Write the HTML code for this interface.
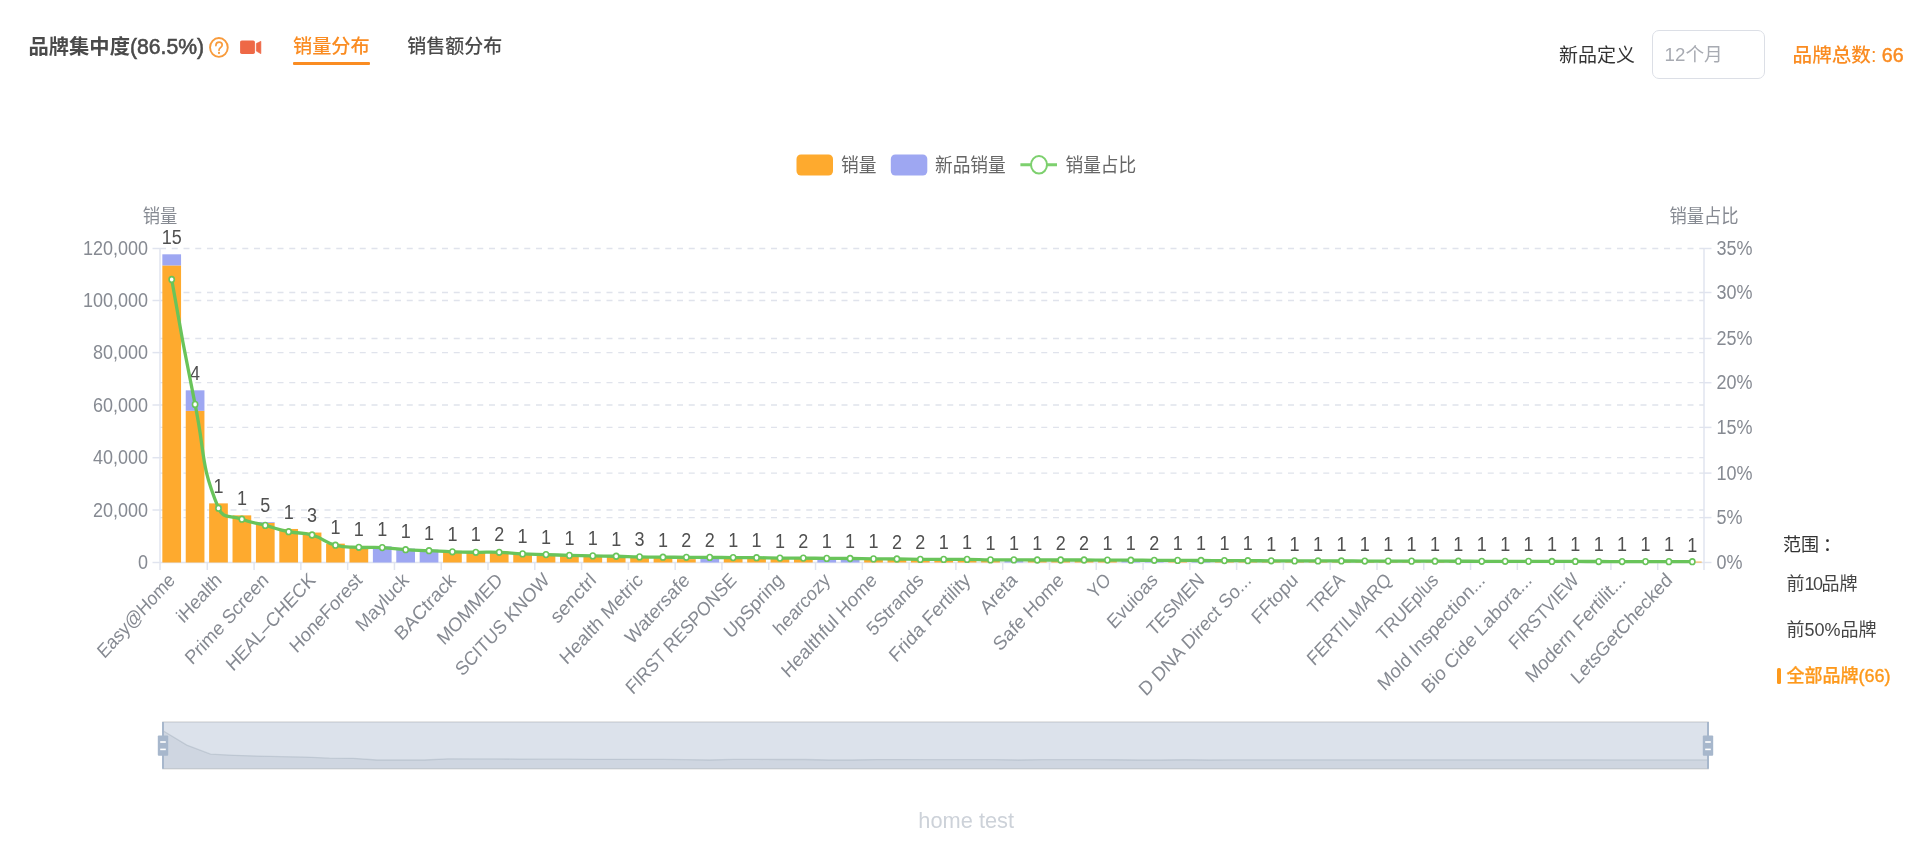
<!DOCTYPE html>
<html><head><meta charset="utf-8"><style>
html,body{margin:0;padding:0;background:#fff;width:1920px;height:843px;overflow:hidden;}
body{position:relative;font-family:"Liberation Sans","Noto Sans CJK SC",sans-serif;}
.abs{position:absolute;white-space:nowrap;line-height:1;}
body>*{filter:blur(0.45px);}
svg{position:absolute;left:0;top:0;}
svg text{font-family:"Liberation Sans","Noto Sans CJK SC",sans-serif;}
.al{font-size:18px;fill:#868A92;}
.dl{font-size:18px;fill:#505050;}
.lg{font-size:17.7px;fill:#666;}
.wm{font-size:21.8px;fill:#cdd2d9;}
</style></head><body>
<div class="abs" style="left:28.5px;top:35.6px;font-size:20.3px;color:#4a4a4a;font-weight:bold;transform:scaleY(1.0);transform-origin:0 50%;">品牌集中度<span style="font-weight:normal;font-size:21.2px;-webkit-text-stroke:0.55px #4a4a4a">(86.5%)</span></div>
<svg class="abs" style="left:205px;top:33px;" width="60" height="30" viewBox="205 33 60 30"><ellipse cx="218.9" cy="47.45" rx="8.85" ry="9.4" fill="none" stroke="#F89B3C" stroke-width="1.9"/><path d="M215.9,45.6 C215.9,43.3 217.3,42.2 219.1,42.2 C221,42.2 222.2,43.4 222.2,45 C222.2,46.4 221.3,47.1 220.4,47.7 C219.4,48.4 219,48.9 219,50.3" fill="none" stroke="#F89B3C" stroke-width="1.7" stroke-linecap="round"/><ellipse cx="219" cy="53" rx="1.05" ry="1.15" fill="#F89B3C"/><rect x="240.1" y="40.4" width="14.8" height="13.6" rx="1.7" fill="#EE6846"/><path d="M256.3,43.5 L260.9,41.3 L260.9,53.7 L256.3,51.1 Z" fill="#EE6846" stroke="#EE6846" stroke-width="0.6" stroke-linejoin="round"/></svg>
<div class="abs" style="left:293px;top:36.5px;font-size:19.2px;color:#FA8C22;font-weight:500;transform:scaleY(1.0);transform-origin:0 50%;">销量分布</div>
<div class="abs" style="left:293px;top:61.6px;width:77px;height:3.4px;background:#FA8C22;border-radius:1px;"></div>
<div class="abs" style="left:407.3px;top:36.5px;font-size:19.0px;color:#4a4a4a;font-weight:500;transform:scaleY(1.0);transform-origin:0 50%;">销售额分布</div>
<div class="abs" style="left:1559px;top:45.5px;font-size:19.0px;color:#333;font-weight:normal;transform:scaleY(1.0);transform-origin:0 50%;">新品定义</div>
<div class="abs" style="left:1652.2px;top:30.4px;width:110.5px;height:46.5px;border:1.5px solid #dcdfe6;border-radius:7px;"></div>
<div class="abs" style="left:1664.6px;top:46px;font-size:18.7px;color:#a8abb2;font-weight:normal;transform:scaleY(1.0);transform-origin:0 50%;">12个月</div>
<div class="abs" style="left:1792.6px;top:45.8px;font-size:19.6px;color:#FA8C22;font-weight:500;transform:scaleY(1.0);transform-origin:0 50%;">品牌总数: <span style="-webkit-text-stroke:0.5px #FA8C22">66</span></div>
<div class="abs" style="left:1783px;top:536px;font-size:18px;color:#333;font-weight:normal;transform:scaleY(1.0);transform-origin:0 50%;">范围<span style="position:relative;left:4px">：</span></div>
<div class="abs" style="left:1786.5px;top:575px;font-size:18px;color:#444;font-weight:normal;transform:scaleY(1.0);transform-origin:0 50%;">前<span style="letter-spacing:-1.5px">10</span>品牌</div>
<div class="abs" style="left:1786.5px;top:621px;font-size:18px;color:#444;font-weight:normal;transform:scaleY(1.0);transform-origin:0 50%;">前50%品牌</div>
<div class="abs" style="left:1777px;top:668px;width:3.6px;height:15.7px;border-radius:1.5px;background:#FD991C;"></div>
<div class="abs" style="left:1786.5px;top:667px;font-size:18px;color:#FD991C;font-weight:500;transform:scaleY(1.0);transform-origin:0 50%;-webkit-text-stroke:0.25px #FD991C;">全部品牌<span style="-webkit-text-stroke:0.4px #FD991C">(66)</span></div>
<svg width="1920" height="843" viewBox="0 0 1920 843">
<line x1="160" y1="510" x2="1704" y2="510" stroke="#E0E3EC" stroke-width="1.3" stroke-dasharray="6 5.75"/>
<line x1="160" y1="457.7" x2="1704" y2="457.7" stroke="#E0E3EC" stroke-width="1.3" stroke-dasharray="6 5.75"/>
<line x1="160" y1="405" x2="1704" y2="405" stroke="#E0E3EC" stroke-width="1.3" stroke-dasharray="6 5.75"/>
<line x1="160" y1="352.6" x2="1704" y2="352.6" stroke="#E0E3EC" stroke-width="1.3" stroke-dasharray="6 5.75"/>
<line x1="160" y1="300.5" x2="1704" y2="300.5" stroke="#E0E3EC" stroke-width="1.3" stroke-dasharray="6 5.75"/>
<line x1="160" y1="248.5" x2="1704" y2="248.5" stroke="#E0E3EC" stroke-width="1.3" stroke-dasharray="6 5.75"/>
<line x1="160" y1="517.6" x2="1704" y2="517.6" stroke="#E0E3EC" stroke-width="1.3" stroke-dasharray="6 5.75"/>
<line x1="160" y1="473.1" x2="1704" y2="473.1" stroke="#E0E3EC" stroke-width="1.3" stroke-dasharray="6 5.75"/>
<line x1="160" y1="427.4" x2="1704" y2="427.4" stroke="#E0E3EC" stroke-width="1.3" stroke-dasharray="6 5.75"/>
<line x1="160" y1="382.7" x2="1704" y2="382.7" stroke="#E0E3EC" stroke-width="1.3" stroke-dasharray="6 5.75"/>
<line x1="160" y1="338.5" x2="1704" y2="338.5" stroke="#E0E3EC" stroke-width="1.3" stroke-dasharray="6 5.75"/>
<line x1="160" y1="292.5" x2="1704" y2="292.5" stroke="#E0E3EC" stroke-width="1.3" stroke-dasharray="6 5.75"/>
<line x1="160" y1="248.4" x2="160" y2="562.5" stroke="#E0E4EF" stroke-width="1.5"/>
<line x1="1704" y1="248.4" x2="1704" y2="562.5" stroke="#E0E4EF" stroke-width="1.5"/>
<line x1="160" y1="562.5" x2="1704" y2="562.5" stroke="#E0E4EF" stroke-width="1.5"/>
<line x1="152.5" y1="562.5" x2="160" y2="562.5" stroke="#E0E4EF" stroke-width="1.5"/>
<text transform="translate(148,562.5) scale(1,1.09)" class="al" text-anchor="end" dominant-baseline="central">0</text>
<line x1="152.5" y1="510" x2="160" y2="510" stroke="#E0E4EF" stroke-width="1.5"/>
<text transform="translate(148,510) scale(1,1.09)" class="al" text-anchor="end" dominant-baseline="central">20,000</text>
<line x1="152.5" y1="457.7" x2="160" y2="457.7" stroke="#E0E4EF" stroke-width="1.5"/>
<text transform="translate(148,457.7) scale(1,1.09)" class="al" text-anchor="end" dominant-baseline="central">40,000</text>
<line x1="152.5" y1="405" x2="160" y2="405" stroke="#E0E4EF" stroke-width="1.5"/>
<text transform="translate(148,405) scale(1,1.09)" class="al" text-anchor="end" dominant-baseline="central">60,000</text>
<line x1="152.5" y1="352.6" x2="160" y2="352.6" stroke="#E0E4EF" stroke-width="1.5"/>
<text transform="translate(148,352.6) scale(1,1.09)" class="al" text-anchor="end" dominant-baseline="central">80,000</text>
<line x1="152.5" y1="300.5" x2="160" y2="300.5" stroke="#E0E4EF" stroke-width="1.5"/>
<text transform="translate(148,300.5) scale(1,1.09)" class="al" text-anchor="end" dominant-baseline="central">100,000</text>
<line x1="152.5" y1="248.5" x2="160" y2="248.5" stroke="#E0E4EF" stroke-width="1.5"/>
<text transform="translate(148,248.5) scale(1,1.09)" class="al" text-anchor="end" dominant-baseline="central">120,000</text>
<line x1="1704" y1="562.5" x2="1711.5" y2="562.5" stroke="#E0E4EF" stroke-width="1.5"/>
<text transform="translate(1716.5,562.5) scale(1,1.09)" class="al" dominant-baseline="central">0%</text>
<line x1="1704" y1="517.6" x2="1711.5" y2="517.6" stroke="#E0E4EF" stroke-width="1.5"/>
<text transform="translate(1716.5,517.6) scale(1,1.09)" class="al" dominant-baseline="central">5%</text>
<line x1="1704" y1="473.1" x2="1711.5" y2="473.1" stroke="#E0E4EF" stroke-width="1.5"/>
<text transform="translate(1716.5,473.1) scale(1,1.09)" class="al" dominant-baseline="central">10%</text>
<line x1="1704" y1="427.4" x2="1711.5" y2="427.4" stroke="#E0E4EF" stroke-width="1.5"/>
<text transform="translate(1716.5,427.4) scale(1,1.09)" class="al" dominant-baseline="central">15%</text>
<line x1="1704" y1="382.7" x2="1711.5" y2="382.7" stroke="#E0E4EF" stroke-width="1.5"/>
<text transform="translate(1716.5,382.7) scale(1,1.09)" class="al" dominant-baseline="central">20%</text>
<line x1="1704" y1="338.5" x2="1711.5" y2="338.5" stroke="#E0E4EF" stroke-width="1.5"/>
<text transform="translate(1716.5,338.5) scale(1,1.09)" class="al" dominant-baseline="central">25%</text>
<line x1="1704" y1="292.5" x2="1711.5" y2="292.5" stroke="#E0E4EF" stroke-width="1.5"/>
<text transform="translate(1716.5,292.5) scale(1,1.09)" class="al" dominant-baseline="central">30%</text>
<line x1="1704" y1="248.5" x2="1711.5" y2="248.5" stroke="#E0E4EF" stroke-width="1.5"/>
<text transform="translate(1716.5,248.5) scale(1,1.09)" class="al" dominant-baseline="central">35%</text>
<line x1="160" y1="562.5" x2="160" y2="570" stroke="#E0E4EF" stroke-width="1.5"/>
<line x1="207.29" y1="562.5" x2="207.29" y2="570" stroke="#E0E4EF" stroke-width="1.5"/>
<line x1="254.08" y1="562.5" x2="254.08" y2="570" stroke="#E0E4EF" stroke-width="1.5"/>
<line x1="300.86" y1="562.5" x2="300.86" y2="570" stroke="#E0E4EF" stroke-width="1.5"/>
<line x1="347.65" y1="562.5" x2="347.65" y2="570" stroke="#E0E4EF" stroke-width="1.5"/>
<line x1="394.44" y1="562.5" x2="394.44" y2="570" stroke="#E0E4EF" stroke-width="1.5"/>
<line x1="441.23" y1="562.5" x2="441.23" y2="570" stroke="#E0E4EF" stroke-width="1.5"/>
<line x1="488.02" y1="562.5" x2="488.02" y2="570" stroke="#E0E4EF" stroke-width="1.5"/>
<line x1="534.8" y1="562.5" x2="534.8" y2="570" stroke="#E0E4EF" stroke-width="1.5"/>
<line x1="581.59" y1="562.5" x2="581.59" y2="570" stroke="#E0E4EF" stroke-width="1.5"/>
<line x1="628.38" y1="562.5" x2="628.38" y2="570" stroke="#E0E4EF" stroke-width="1.5"/>
<line x1="675.17" y1="562.5" x2="675.17" y2="570" stroke="#E0E4EF" stroke-width="1.5"/>
<line x1="721.95" y1="562.5" x2="721.95" y2="570" stroke="#E0E4EF" stroke-width="1.5"/>
<line x1="768.74" y1="562.5" x2="768.74" y2="570" stroke="#E0E4EF" stroke-width="1.5"/>
<line x1="815.53" y1="562.5" x2="815.53" y2="570" stroke="#E0E4EF" stroke-width="1.5"/>
<line x1="862.32" y1="562.5" x2="862.32" y2="570" stroke="#E0E4EF" stroke-width="1.5"/>
<line x1="909.11" y1="562.5" x2="909.11" y2="570" stroke="#E0E4EF" stroke-width="1.5"/>
<line x1="955.89" y1="562.5" x2="955.89" y2="570" stroke="#E0E4EF" stroke-width="1.5"/>
<line x1="1002.68" y1="562.5" x2="1002.68" y2="570" stroke="#E0E4EF" stroke-width="1.5"/>
<line x1="1049.47" y1="562.5" x2="1049.47" y2="570" stroke="#E0E4EF" stroke-width="1.5"/>
<line x1="1096.26" y1="562.5" x2="1096.26" y2="570" stroke="#E0E4EF" stroke-width="1.5"/>
<line x1="1143.05" y1="562.5" x2="1143.05" y2="570" stroke="#E0E4EF" stroke-width="1.5"/>
<line x1="1189.83" y1="562.5" x2="1189.83" y2="570" stroke="#E0E4EF" stroke-width="1.5"/>
<line x1="1236.62" y1="562.5" x2="1236.62" y2="570" stroke="#E0E4EF" stroke-width="1.5"/>
<line x1="1283.41" y1="562.5" x2="1283.41" y2="570" stroke="#E0E4EF" stroke-width="1.5"/>
<line x1="1330.2" y1="562.5" x2="1330.2" y2="570" stroke="#E0E4EF" stroke-width="1.5"/>
<line x1="1376.98" y1="562.5" x2="1376.98" y2="570" stroke="#E0E4EF" stroke-width="1.5"/>
<line x1="1423.77" y1="562.5" x2="1423.77" y2="570" stroke="#E0E4EF" stroke-width="1.5"/>
<line x1="1470.56" y1="562.5" x2="1470.56" y2="570" stroke="#E0E4EF" stroke-width="1.5"/>
<line x1="1517.35" y1="562.5" x2="1517.35" y2="570" stroke="#E0E4EF" stroke-width="1.5"/>
<line x1="1564.14" y1="562.5" x2="1564.14" y2="570" stroke="#E0E4EF" stroke-width="1.5"/>
<line x1="1610.92" y1="562.5" x2="1610.92" y2="570" stroke="#E0E4EF" stroke-width="1.5"/>
<line x1="1657.71" y1="562.5" x2="1657.71" y2="570" stroke="#E0E4EF" stroke-width="1.5"/>
<line x1="1704" y1="562.5" x2="1704" y2="570" stroke="#E0E4EF" stroke-width="1.5"/>
<text transform="translate(160,216.4) scale(1,1.09)" class="al" style="font-size:17.3px" text-anchor="middle" dominant-baseline="central">销量</text>
<text transform="translate(1704,216.4) scale(1,1.09)" class="al" style="font-size:17.3px" text-anchor="middle" dominant-baseline="central">销量占比</text>
<rect x="162.34" y="265.41" width="18.72" height="297.09" fill="#FEAA2E"/>
<rect x="162.34" y="254.31" width="18.72" height="11.11" fill="#9EA7F2"/>
<rect x="185.73" y="410.85" width="18.72" height="151.65" fill="#FEAA2E"/>
<rect x="185.73" y="390.32" width="18.72" height="20.53" fill="#9EA7F2"/>
<rect x="209.13" y="503.37" width="18.72" height="59.13" fill="#FEAA2E"/>
<rect x="232.52" y="515.35" width="18.72" height="47.15" fill="#FEAA2E"/>
<rect x="255.92" y="522.88" width="18.72" height="39.62" fill="#FEAA2E"/>
<rect x="255.92" y="522.1" width="18.72" height="0.79" fill="#9EA7F2"/>
<rect x="279.31" y="528.96" width="18.72" height="33.54" fill="#FEAA2E"/>
<rect x="302.7" y="532.55" width="18.72" height="29.95" fill="#FEAA2E"/>
<rect x="326.1" y="543.66" width="18.72" height="18.84" fill="#FEAA2E"/>
<rect x="349.49" y="545.95" width="18.72" height="16.55" fill="#FEAA2E"/>
<rect x="372.88" y="546.27" width="18.72" height="16.23" fill="#9EA7F2"/>
<rect x="396.28" y="548.56" width="18.72" height="13.94" fill="#9EA7F2"/>
<rect x="419.67" y="549.65" width="18.72" height="12.85" fill="#9EA7F2"/>
<rect x="443.07" y="550.85" width="18.72" height="11.65" fill="#FEAA2E"/>
<rect x="466.46" y="551.39" width="18.72" height="11.11" fill="#FEAA2E"/>
<rect x="489.85" y="551.39" width="18.72" height="11.11" fill="#FEAA2E"/>
<rect x="513.25" y="553.13" width="18.72" height="9.37" fill="#FEAA2E"/>
<rect x="536.64" y="553.9" width="18.72" height="8.6" fill="#FEAA2E"/>
<rect x="560.04" y="554.77" width="18.72" height="7.73" fill="#FEAA2E"/>
<rect x="583.43" y="555.31" width="18.72" height="7.19" fill="#FEAA2E"/>
<rect x="606.82" y="555.69" width="18.72" height="6.81" fill="#FEAA2E"/>
<rect x="630.22" y="556.4" width="18.72" height="6.1" fill="#FEAA2E"/>
<rect x="653.61" y="556.73" width="18.72" height="5.77" fill="#FEAA2E"/>
<rect x="677.01" y="559.1" width="18.72" height="3.4" fill="#FEAA2E"/>
<rect x="677.01" y="556.84" width="18.72" height="2.27" fill="#9EA7F2"/>
<rect x="700.4" y="556.95" width="18.72" height="5.55" fill="#9EA7F2"/>
<rect x="723.79" y="557.16" width="18.72" height="5.34" fill="#FEAA2E"/>
<rect x="747.19" y="557.27" width="18.72" height="5.23" fill="#FEAA2E"/>
<rect x="770.58" y="557.71" width="18.72" height="4.79" fill="#FEAA2E"/>
<rect x="793.98" y="557.71" width="18.72" height="4.79" fill="#FEAA2E"/>
<rect x="817.37" y="558.03" width="18.72" height="4.47" fill="#9EA7F2"/>
<rect x="840.76" y="558.14" width="18.72" height="4.36" fill="#9EA7F2"/>
<rect x="864.16" y="558.58" width="18.72" height="3.92" fill="#FEAA2E"/>
<rect x="887.55" y="558.69" width="18.72" height="3.81" fill="#FEAA2E"/>
<rect x="910.95" y="559.12" width="18.72" height="3.38" fill="#FEAA2E"/>
<rect x="934.34" y="559.12" width="18.72" height="3.38" fill="#FEAA2E"/>
<rect x="957.73" y="559.12" width="18.72" height="3.38" fill="#FEAA2E"/>
<rect x="981.13" y="559.67" width="18.72" height="2.83" fill="#FEAA2E"/>
<rect x="1004.52" y="559.67" width="18.72" height="2.83" fill="#9EA7F2"/>
<rect x="1027.92" y="559.78" width="18.72" height="2.72" fill="#FEAA2E"/>
<rect x="1051.31" y="559.78" width="18.72" height="2.72" fill="#FEAA2E"/>
<rect x="1074.7" y="559.78" width="18.72" height="2.72" fill="#FEAA2E"/>
<rect x="1098.1" y="559.89" width="18.72" height="2.61" fill="#FEAA2E"/>
<rect x="1121.49" y="560" width="18.72" height="2.5" fill="#9EA7F2"/>
<rect x="1144.88" y="560.1" width="18.72" height="2.4" fill="#9EA7F2"/>
<rect x="1168.28" y="560.21" width="18.72" height="2.29" fill="#FEAA2E"/>
<rect x="1191.67" y="560.32" width="18.72" height="2.18" fill="#9EA7F2"/>
<rect x="1215.07" y="560.43" width="18.72" height="2.07" fill="#FEAA2E"/>
<rect x="1238.46" y="560.54" width="18.72" height="1.96" fill="#FEAA2E"/>
<rect x="1261.85" y="560.65" width="18.72" height="1.85" fill="#FEAA2E"/>
<rect x="1285.25" y="560.76" width="18.72" height="1.74" fill="#FEAA2E"/>
<rect x="1308.64" y="560.81" width="18.72" height="1.69" fill="#FEAA2E"/>
<rect x="1332.04" y="560.86" width="18.72" height="1.64" fill="#FEAA2E"/>
<rect x="1355.43" y="560.91" width="18.72" height="1.59" fill="#FEAA2E"/>
<rect x="1378.82" y="560.96" width="18.72" height="1.54" fill="#FEAA2E"/>
<rect x="1402.22" y="561.01" width="18.72" height="1.49" fill="#FEAA2E"/>
<rect x="1425.61" y="561.07" width="18.72" height="1.43" fill="#FEAA2E"/>
<rect x="1449.01" y="561.12" width="18.72" height="1.38" fill="#FEAA2E"/>
<rect x="1472.4" y="561.17" width="18.72" height="1.33" fill="#FEAA2E"/>
<rect x="1495.79" y="561.22" width="18.72" height="1.28" fill="#FEAA2E"/>
<rect x="1519.19" y="561.27" width="18.72" height="1.23" fill="#FEAA2E"/>
<rect x="1542.58" y="561.32" width="18.72" height="1.18" fill="#FEAA2E"/>
<rect x="1565.98" y="561.37" width="18.72" height="1.13" fill="#FEAA2E"/>
<rect x="1589.37" y="561.42" width="18.72" height="1.08" fill="#FEAA2E"/>
<rect x="1612.76" y="561.48" width="18.72" height="1.02" fill="#FEAA2E"/>
<rect x="1636.16" y="561.53" width="18.72" height="0.97" fill="#FEAA2E"/>
<rect x="1659.55" y="561.58" width="18.72" height="0.92" fill="#FEAA2E"/>
<rect x="1682.95" y="561.63" width="18.72" height="0.87" fill="#FEAA2E"/>
<text transform="translate(171.7,244.21) scale(1,1.09)" class="dl" text-anchor="middle">15</text>
<text transform="translate(195.09,380.22) scale(1,1.09)" class="dl" text-anchor="middle">4</text>
<text transform="translate(218.48,493.27) scale(1,1.09)" class="dl" text-anchor="middle">1</text>
<text transform="translate(241.88,505.25) scale(1,1.09)" class="dl" text-anchor="middle">1</text>
<text transform="translate(265.27,512) scale(1,1.09)" class="dl" text-anchor="middle">5</text>
<text transform="translate(288.67,518.86) scale(1,1.09)" class="dl" text-anchor="middle">1</text>
<text transform="translate(312.06,522.45) scale(1,1.09)" class="dl" text-anchor="middle">3</text>
<text transform="translate(335.45,533.56) scale(1,1.09)" class="dl" text-anchor="middle">1</text>
<text transform="translate(358.85,535.85) scale(1,1.09)" class="dl" text-anchor="middle">1</text>
<text transform="translate(382.24,536.17) scale(1,1.09)" class="dl" text-anchor="middle">1</text>
<text transform="translate(405.64,538.46) scale(1,1.09)" class="dl" text-anchor="middle">1</text>
<text transform="translate(429.03,539.55) scale(1,1.09)" class="dl" text-anchor="middle">1</text>
<text transform="translate(452.42,540.75) scale(1,1.09)" class="dl" text-anchor="middle">1</text>
<text transform="translate(475.82,541.29) scale(1,1.09)" class="dl" text-anchor="middle">1</text>
<text transform="translate(499.21,541.29) scale(1,1.09)" class="dl" text-anchor="middle">2</text>
<text transform="translate(522.61,543.03) scale(1,1.09)" class="dl" text-anchor="middle">1</text>
<text transform="translate(546,543.8) scale(1,1.09)" class="dl" text-anchor="middle">1</text>
<text transform="translate(569.39,544.67) scale(1,1.09)" class="dl" text-anchor="middle">1</text>
<text transform="translate(592.79,545.21) scale(1,1.09)" class="dl" text-anchor="middle">1</text>
<text transform="translate(616.18,545.59) scale(1,1.09)" class="dl" text-anchor="middle">1</text>
<text transform="translate(639.58,546.3) scale(1,1.09)" class="dl" text-anchor="middle">3</text>
<text transform="translate(662.97,546.63) scale(1,1.09)" class="dl" text-anchor="middle">1</text>
<text transform="translate(686.36,546.74) scale(1,1.09)" class="dl" text-anchor="middle">2</text>
<text transform="translate(709.76,546.85) scale(1,1.09)" class="dl" text-anchor="middle">2</text>
<text transform="translate(733.15,547.06) scale(1,1.09)" class="dl" text-anchor="middle">1</text>
<text transform="translate(756.55,547.17) scale(1,1.09)" class="dl" text-anchor="middle">1</text>
<text transform="translate(779.94,547.61) scale(1,1.09)" class="dl" text-anchor="middle">1</text>
<text transform="translate(803.33,547.61) scale(1,1.09)" class="dl" text-anchor="middle">2</text>
<text transform="translate(826.73,547.93) scale(1,1.09)" class="dl" text-anchor="middle">1</text>
<text transform="translate(850.12,548.04) scale(1,1.09)" class="dl" text-anchor="middle">1</text>
<text transform="translate(873.52,548.48) scale(1,1.09)" class="dl" text-anchor="middle">1</text>
<text transform="translate(896.91,548.59) scale(1,1.09)" class="dl" text-anchor="middle">2</text>
<text transform="translate(920.3,549.02) scale(1,1.09)" class="dl" text-anchor="middle">2</text>
<text transform="translate(943.7,549.02) scale(1,1.09)" class="dl" text-anchor="middle">1</text>
<text transform="translate(967.09,549.02) scale(1,1.09)" class="dl" text-anchor="middle">1</text>
<text transform="translate(990.48,549.57) scale(1,1.09)" class="dl" text-anchor="middle">1</text>
<text transform="translate(1013.88,549.57) scale(1,1.09)" class="dl" text-anchor="middle">1</text>
<text transform="translate(1037.27,549.68) scale(1,1.09)" class="dl" text-anchor="middle">1</text>
<text transform="translate(1060.67,549.68) scale(1,1.09)" class="dl" text-anchor="middle">2</text>
<text transform="translate(1084.06,549.68) scale(1,1.09)" class="dl" text-anchor="middle">2</text>
<text transform="translate(1107.45,549.79) scale(1,1.09)" class="dl" text-anchor="middle">1</text>
<text transform="translate(1130.85,549.9) scale(1,1.09)" class="dl" text-anchor="middle">1</text>
<text transform="translate(1154.24,550) scale(1,1.09)" class="dl" text-anchor="middle">2</text>
<text transform="translate(1177.64,550.11) scale(1,1.09)" class="dl" text-anchor="middle">1</text>
<text transform="translate(1201.03,550.22) scale(1,1.09)" class="dl" text-anchor="middle">1</text>
<text transform="translate(1224.42,550.33) scale(1,1.09)" class="dl" text-anchor="middle">1</text>
<text transform="translate(1247.82,550.44) scale(1,1.09)" class="dl" text-anchor="middle">1</text>
<text transform="translate(1271.21,550.55) scale(1,1.09)" class="dl" text-anchor="middle">1</text>
<text transform="translate(1294.61,550.66) scale(1,1.09)" class="dl" text-anchor="middle">1</text>
<text transform="translate(1318,550.71) scale(1,1.09)" class="dl" text-anchor="middle">1</text>
<text transform="translate(1341.39,550.76) scale(1,1.09)" class="dl" text-anchor="middle">1</text>
<text transform="translate(1364.79,550.81) scale(1,1.09)" class="dl" text-anchor="middle">1</text>
<text transform="translate(1388.18,550.86) scale(1,1.09)" class="dl" text-anchor="middle">1</text>
<text transform="translate(1411.58,550.91) scale(1,1.09)" class="dl" text-anchor="middle">1</text>
<text transform="translate(1434.97,550.97) scale(1,1.09)" class="dl" text-anchor="middle">1</text>
<text transform="translate(1458.36,551.02) scale(1,1.09)" class="dl" text-anchor="middle">1</text>
<text transform="translate(1481.76,551.07) scale(1,1.09)" class="dl" text-anchor="middle">1</text>
<text transform="translate(1505.15,551.12) scale(1,1.09)" class="dl" text-anchor="middle">1</text>
<text transform="translate(1528.55,551.17) scale(1,1.09)" class="dl" text-anchor="middle">1</text>
<text transform="translate(1551.94,551.22) scale(1,1.09)" class="dl" text-anchor="middle">1</text>
<text transform="translate(1575.33,551.27) scale(1,1.09)" class="dl" text-anchor="middle">1</text>
<text transform="translate(1598.73,551.32) scale(1,1.09)" class="dl" text-anchor="middle">1</text>
<text transform="translate(1622.12,551.38) scale(1,1.09)" class="dl" text-anchor="middle">1</text>
<text transform="translate(1645.52,551.43) scale(1,1.09)" class="dl" text-anchor="middle">1</text>
<text transform="translate(1668.91,551.48) scale(1,1.09)" class="dl" text-anchor="middle">1</text>
<text transform="translate(1692.3,551.53) scale(1,1.09)" class="dl" text-anchor="middle">1</text>
<path d="M171.7,279.5 C171.7,279.5 182.36,342.16 195.09,404.4 C205.75,456.51 199.66,462.02 218.48,508.2 C223.06,519.42 229.8,514.76 241.88,519.2 C253.19,523.36 253.58,522.28 265.27,525.4 C276.98,528.53 276.82,529.27 288.67,531.7 C300.22,534.07 300.81,531.76 312.06,535 C324.21,538.51 323.27,542 335.45,545.2 C346.67,548.15 347.13,546.7 358.85,547.3 C370.52,547.9 370.57,547 382.24,547.6 C393.96,548.2 393.92,548.92 405.64,549.7 C417.32,550.47 417.33,550.18 429.03,550.7 C440.73,551.23 440.72,551.4 452.42,551.8 C464.12,552.2 464.12,552.17 475.82,552.3 C487.51,552.42 487.53,551.9 499.21,552.3 C510.92,552.7 510.9,553.32 522.61,553.9 C534.29,554.47 534.3,554.23 546,554.6 C557.7,554.98 557.69,555.07 569.39,555.4 C581.09,555.72 581.09,555.69 592.79,555.9 C604.48,556.11 604.49,556 616.18,556.25 C627.88,556.5 627.88,556.66 639.58,556.9 C651.27,557.14 651.27,557.1 662.97,557.2 C674.67,557.3 674.67,557.25 686.36,557.3 C698.06,557.35 698.06,557.33 709.76,557.4 C721.45,557.48 721.45,557.52 733.15,557.6 C744.85,557.67 744.85,557.58 756.55,557.7 C768.24,557.83 768.24,558 779.94,558.1 C791.64,558.2 791.64,558.03 803.33,558.1 C815.03,558.18 815.03,558.3 826.73,558.4 C838.42,558.5 838.43,558.38 850.12,558.5 C861.82,558.63 861.82,558.77 873.52,558.9 C885.21,559.02 885.21,558.88 896.91,559 C908.61,559.13 908.61,559.3 920.3,559.4 C932,559.5 932,559.4 943.7,559.4 C955.39,559.4 955.4,559.28 967.09,559.4 C978.79,559.53 978.79,559.77 990.48,559.9 C1002.18,560.02 1002.18,559.88 1013.88,559.9 C1025.58,559.93 1025.58,559.97 1037.27,560 C1048.97,560.02 1048.97,560 1060.67,560 C1072.36,560 1072.36,559.98 1084.06,560 C1095.76,560.03 1095.76,560.05 1107.45,560.1 C1119.15,560.15 1119.15,560.15 1130.85,560.2 C1142.55,560.25 1142.55,560.25 1154.24,560.3 C1165.94,560.35 1165.94,560.35 1177.64,560.4 C1189.33,560.45 1189.33,560.45 1201.03,560.5 C1212.73,560.55 1212.73,560.55 1224.42,560.6 C1236.12,560.65 1236.12,560.65 1247.82,560.7 C1259.52,560.75 1259.52,560.75 1271.21,560.8 C1282.91,560.85 1282.91,560.86 1294.61,560.9 C1306.3,560.94 1306.3,560.92 1318,560.95 C1329.7,560.97 1329.7,560.97 1341.39,560.99 C1353.09,561.02 1353.09,561.02 1364.79,561.04 C1376.48,561.06 1376.48,561.06 1388.18,561.09 C1399.88,561.11 1399.88,561.11 1411.58,561.14 C1423.27,561.16 1423.27,561.16 1434.97,561.18 C1446.67,561.21 1446.67,561.21 1458.36,561.23 C1470.06,561.25 1470.06,561.25 1481.76,561.28 C1493.45,561.3 1493.45,561.3 1505.15,561.32 C1516.85,561.35 1516.85,561.35 1528.55,561.37 C1540.24,561.39 1540.24,561.39 1551.94,561.42 C1563.64,561.44 1563.64,561.44 1575.33,561.46 C1587.03,561.49 1587.03,561.49 1598.73,561.51 C1610.42,561.54 1610.42,561.54 1622.12,561.56 C1633.82,561.58 1633.82,561.58 1645.52,561.61 C1657.21,561.63 1657.21,561.63 1668.91,561.65 C1680.61,561.68 1692.3,561.7 1692.3,561.7" fill="none" stroke="#69C45A" stroke-width="3.3" stroke-linejoin="round"/>
<ellipse cx="171.7" cy="279.5" rx="2.6" ry="2.83" fill="#fff" stroke="#69C45A" stroke-width="1.6"/>
<ellipse cx="195.09" cy="404.4" rx="2.6" ry="2.83" fill="#fff" stroke="#69C45A" stroke-width="1.6"/>
<ellipse cx="218.48" cy="508.2" rx="2.6" ry="2.83" fill="#fff" stroke="#69C45A" stroke-width="1.6"/>
<ellipse cx="241.88" cy="519.2" rx="2.6" ry="2.83" fill="#fff" stroke="#69C45A" stroke-width="1.6"/>
<ellipse cx="265.27" cy="525.4" rx="2.6" ry="2.83" fill="#fff" stroke="#69C45A" stroke-width="1.6"/>
<ellipse cx="288.67" cy="531.7" rx="2.6" ry="2.83" fill="#fff" stroke="#69C45A" stroke-width="1.6"/>
<ellipse cx="312.06" cy="535" rx="2.6" ry="2.83" fill="#fff" stroke="#69C45A" stroke-width="1.6"/>
<ellipse cx="335.45" cy="545.2" rx="2.6" ry="2.83" fill="#fff" stroke="#69C45A" stroke-width="1.6"/>
<ellipse cx="358.85" cy="547.3" rx="2.6" ry="2.83" fill="#fff" stroke="#69C45A" stroke-width="1.6"/>
<ellipse cx="382.24" cy="547.6" rx="2.6" ry="2.83" fill="#fff" stroke="#69C45A" stroke-width="1.6"/>
<ellipse cx="405.64" cy="549.7" rx="2.6" ry="2.83" fill="#fff" stroke="#69C45A" stroke-width="1.6"/>
<ellipse cx="429.03" cy="550.7" rx="2.6" ry="2.83" fill="#fff" stroke="#69C45A" stroke-width="1.6"/>
<ellipse cx="452.42" cy="551.8" rx="2.6" ry="2.83" fill="#fff" stroke="#69C45A" stroke-width="1.6"/>
<ellipse cx="475.82" cy="552.3" rx="2.6" ry="2.83" fill="#fff" stroke="#69C45A" stroke-width="1.6"/>
<ellipse cx="499.21" cy="552.3" rx="2.6" ry="2.83" fill="#fff" stroke="#69C45A" stroke-width="1.6"/>
<ellipse cx="522.61" cy="553.9" rx="2.6" ry="2.83" fill="#fff" stroke="#69C45A" stroke-width="1.6"/>
<ellipse cx="546" cy="554.6" rx="2.6" ry="2.83" fill="#fff" stroke="#69C45A" stroke-width="1.6"/>
<ellipse cx="569.39" cy="555.4" rx="2.6" ry="2.83" fill="#fff" stroke="#69C45A" stroke-width="1.6"/>
<ellipse cx="592.79" cy="555.9" rx="2.6" ry="2.83" fill="#fff" stroke="#69C45A" stroke-width="1.6"/>
<ellipse cx="616.18" cy="556.25" rx="2.6" ry="2.83" fill="#fff" stroke="#69C45A" stroke-width="1.6"/>
<ellipse cx="639.58" cy="556.9" rx="2.6" ry="2.83" fill="#fff" stroke="#69C45A" stroke-width="1.6"/>
<ellipse cx="662.97" cy="557.2" rx="2.6" ry="2.83" fill="#fff" stroke="#69C45A" stroke-width="1.6"/>
<ellipse cx="686.36" cy="557.3" rx="2.6" ry="2.83" fill="#fff" stroke="#69C45A" stroke-width="1.6"/>
<ellipse cx="709.76" cy="557.4" rx="2.6" ry="2.83" fill="#fff" stroke="#69C45A" stroke-width="1.6"/>
<ellipse cx="733.15" cy="557.6" rx="2.6" ry="2.83" fill="#fff" stroke="#69C45A" stroke-width="1.6"/>
<ellipse cx="756.55" cy="557.7" rx="2.6" ry="2.83" fill="#fff" stroke="#69C45A" stroke-width="1.6"/>
<ellipse cx="779.94" cy="558.1" rx="2.6" ry="2.83" fill="#fff" stroke="#69C45A" stroke-width="1.6"/>
<ellipse cx="803.33" cy="558.1" rx="2.6" ry="2.83" fill="#fff" stroke="#69C45A" stroke-width="1.6"/>
<ellipse cx="826.73" cy="558.4" rx="2.6" ry="2.83" fill="#fff" stroke="#69C45A" stroke-width="1.6"/>
<ellipse cx="850.12" cy="558.5" rx="2.6" ry="2.83" fill="#fff" stroke="#69C45A" stroke-width="1.6"/>
<ellipse cx="873.52" cy="558.9" rx="2.6" ry="2.83" fill="#fff" stroke="#69C45A" stroke-width="1.6"/>
<ellipse cx="896.91" cy="559" rx="2.6" ry="2.83" fill="#fff" stroke="#69C45A" stroke-width="1.6"/>
<ellipse cx="920.3" cy="559.4" rx="2.6" ry="2.83" fill="#fff" stroke="#69C45A" stroke-width="1.6"/>
<ellipse cx="943.7" cy="559.4" rx="2.6" ry="2.83" fill="#fff" stroke="#69C45A" stroke-width="1.6"/>
<ellipse cx="967.09" cy="559.4" rx="2.6" ry="2.83" fill="#fff" stroke="#69C45A" stroke-width="1.6"/>
<ellipse cx="990.48" cy="559.9" rx="2.6" ry="2.83" fill="#fff" stroke="#69C45A" stroke-width="1.6"/>
<ellipse cx="1013.88" cy="559.9" rx="2.6" ry="2.83" fill="#fff" stroke="#69C45A" stroke-width="1.6"/>
<ellipse cx="1037.27" cy="560" rx="2.6" ry="2.83" fill="#fff" stroke="#69C45A" stroke-width="1.6"/>
<ellipse cx="1060.67" cy="560" rx="2.6" ry="2.83" fill="#fff" stroke="#69C45A" stroke-width="1.6"/>
<ellipse cx="1084.06" cy="560" rx="2.6" ry="2.83" fill="#fff" stroke="#69C45A" stroke-width="1.6"/>
<ellipse cx="1107.45" cy="560.1" rx="2.6" ry="2.83" fill="#fff" stroke="#69C45A" stroke-width="1.6"/>
<ellipse cx="1130.85" cy="560.2" rx="2.6" ry="2.83" fill="#fff" stroke="#69C45A" stroke-width="1.6"/>
<ellipse cx="1154.24" cy="560.3" rx="2.6" ry="2.83" fill="#fff" stroke="#69C45A" stroke-width="1.6"/>
<ellipse cx="1177.64" cy="560.4" rx="2.6" ry="2.83" fill="#fff" stroke="#69C45A" stroke-width="1.6"/>
<ellipse cx="1201.03" cy="560.5" rx="2.6" ry="2.83" fill="#fff" stroke="#69C45A" stroke-width="1.6"/>
<ellipse cx="1224.42" cy="560.6" rx="2.6" ry="2.83" fill="#fff" stroke="#69C45A" stroke-width="1.6"/>
<ellipse cx="1247.82" cy="560.7" rx="2.6" ry="2.83" fill="#fff" stroke="#69C45A" stroke-width="1.6"/>
<ellipse cx="1271.21" cy="560.8" rx="2.6" ry="2.83" fill="#fff" stroke="#69C45A" stroke-width="1.6"/>
<ellipse cx="1294.61" cy="560.9" rx="2.6" ry="2.83" fill="#fff" stroke="#69C45A" stroke-width="1.6"/>
<ellipse cx="1318" cy="560.95" rx="2.6" ry="2.83" fill="#fff" stroke="#69C45A" stroke-width="1.6"/>
<ellipse cx="1341.39" cy="560.99" rx="2.6" ry="2.83" fill="#fff" stroke="#69C45A" stroke-width="1.6"/>
<ellipse cx="1364.79" cy="561.04" rx="2.6" ry="2.83" fill="#fff" stroke="#69C45A" stroke-width="1.6"/>
<ellipse cx="1388.18" cy="561.09" rx="2.6" ry="2.83" fill="#fff" stroke="#69C45A" stroke-width="1.6"/>
<ellipse cx="1411.58" cy="561.14" rx="2.6" ry="2.83" fill="#fff" stroke="#69C45A" stroke-width="1.6"/>
<ellipse cx="1434.97" cy="561.18" rx="2.6" ry="2.83" fill="#fff" stroke="#69C45A" stroke-width="1.6"/>
<ellipse cx="1458.36" cy="561.23" rx="2.6" ry="2.83" fill="#fff" stroke="#69C45A" stroke-width="1.6"/>
<ellipse cx="1481.76" cy="561.28" rx="2.6" ry="2.83" fill="#fff" stroke="#69C45A" stroke-width="1.6"/>
<ellipse cx="1505.15" cy="561.32" rx="2.6" ry="2.83" fill="#fff" stroke="#69C45A" stroke-width="1.6"/>
<ellipse cx="1528.55" cy="561.37" rx="2.6" ry="2.83" fill="#fff" stroke="#69C45A" stroke-width="1.6"/>
<ellipse cx="1551.94" cy="561.42" rx="2.6" ry="2.83" fill="#fff" stroke="#69C45A" stroke-width="1.6"/>
<ellipse cx="1575.33" cy="561.46" rx="2.6" ry="2.83" fill="#fff" stroke="#69C45A" stroke-width="1.6"/>
<ellipse cx="1598.73" cy="561.51" rx="2.6" ry="2.83" fill="#fff" stroke="#69C45A" stroke-width="1.6"/>
<ellipse cx="1622.12" cy="561.56" rx="2.6" ry="2.83" fill="#fff" stroke="#69C45A" stroke-width="1.6"/>
<ellipse cx="1645.52" cy="561.61" rx="2.6" ry="2.83" fill="#fff" stroke="#69C45A" stroke-width="1.6"/>
<ellipse cx="1668.91" cy="561.65" rx="2.6" ry="2.83" fill="#fff" stroke="#69C45A" stroke-width="1.6"/>
<ellipse cx="1692.3" cy="561.7" rx="2.6" ry="2.83" fill="#fff" stroke="#69C45A" stroke-width="1.6"/>
<text transform="translate(171.7,576.5) scale(1,1.09) rotate(-45)" class="al" text-anchor="end" dominant-baseline="central" textLength="101.3" lengthAdjust="spacingAndGlyphs">Easy@Home</text>
<text transform="translate(218.48,576.5) scale(1,1.09) rotate(-45)" class="al" text-anchor="end" dominant-baseline="central" textLength="55.5" lengthAdjust="spacingAndGlyphs">iHealth</text>
<text transform="translate(265.27,576.5) scale(1,1.09) rotate(-45)" class="al" text-anchor="end" dominant-baseline="central" textLength="109.6" lengthAdjust="spacingAndGlyphs">Prime Screen</text>
<text transform="translate(312.06,576.5) scale(1,1.09) rotate(-45)" class="al" text-anchor="end" dominant-baseline="central" textLength="117.7" lengthAdjust="spacingAndGlyphs">HEAL–CHECK</text>
<text transform="translate(358.85,576.5) scale(1,1.09) rotate(-45)" class="al" text-anchor="end" dominant-baseline="central" textLength="94.2" lengthAdjust="spacingAndGlyphs">HoneForest</text>
<text transform="translate(405.64,576.5) scale(1,1.09) rotate(-45)" class="al" text-anchor="end" dominant-baseline="central" textLength="66.9" lengthAdjust="spacingAndGlyphs">Mayluck</text>
<text transform="translate(452.42,576.5) scale(1,1.09) rotate(-45)" class="al" text-anchor="end" dominant-baseline="central" textLength="78" lengthAdjust="spacingAndGlyphs">BACtrack</text>
<text transform="translate(499.21,576.5) scale(1,1.09) rotate(-45)" class="al" text-anchor="end" dominant-baseline="central" textLength="84" lengthAdjust="spacingAndGlyphs">MOMMED</text>
<text transform="translate(546,576.5) scale(1,1.09) rotate(-45)" class="al" text-anchor="end" dominant-baseline="central" textLength="124.3" lengthAdjust="spacingAndGlyphs">SCITUS KNOW</text>
<text transform="translate(592.79,576.5) scale(1,1.09) rotate(-45)" class="al" text-anchor="end" dominant-baseline="central" textLength="56.2" lengthAdjust="spacingAndGlyphs">senctrl</text>
<text transform="translate(639.58,576.5) scale(1,1.09) rotate(-45)" class="al" text-anchor="end" dominant-baseline="central" textLength="109.3" lengthAdjust="spacingAndGlyphs">Health Metric</text>
<text transform="translate(686.36,576.5) scale(1,1.09) rotate(-45)" class="al" text-anchor="end" dominant-baseline="central" textLength="82.9" lengthAdjust="spacingAndGlyphs">Watersafe</text>
<text transform="translate(733.15,576.5) scale(1,1.09) rotate(-45)" class="al" text-anchor="end" dominant-baseline="central" textLength="147.9" lengthAdjust="spacingAndGlyphs">FIRST RESPONSE</text>
<text transform="translate(779.94,576.5) scale(1,1.09) rotate(-45)" class="al" text-anchor="end" dominant-baseline="central" textLength="75.5" lengthAdjust="spacingAndGlyphs">UpSpring</text>
<text transform="translate(826.73,576.5) scale(1,1.09) rotate(-45)" class="al" text-anchor="end" dominant-baseline="central" textLength="71.5" lengthAdjust="spacingAndGlyphs">hearcozy</text>
<text transform="translate(873.52,576.5) scale(1,1.09) rotate(-45)" class="al" text-anchor="end" dominant-baseline="central" textLength="126.5" lengthAdjust="spacingAndGlyphs">Healthful Home</text>
<text transform="translate(920.3,576.5) scale(1,1.09) rotate(-45)" class="al" text-anchor="end" dominant-baseline="central" textLength="71.9" lengthAdjust="spacingAndGlyphs">5Strands</text>
<text transform="translate(967.09,576.5) scale(1,1.09) rotate(-45)" class="al" text-anchor="end" dominant-baseline="central" textLength="106.4" lengthAdjust="spacingAndGlyphs">Frida Fertility</text>
<text transform="translate(1013.88,576.5) scale(1,1.09) rotate(-45)" class="al" text-anchor="end" dominant-baseline="central" textLength="44.3" lengthAdjust="spacingAndGlyphs">Areta</text>
<text transform="translate(1060.67,576.5) scale(1,1.09) rotate(-45)" class="al" text-anchor="end" dominant-baseline="central" textLength="91.6" lengthAdjust="spacingAndGlyphs">Safe Home</text>
<text transform="translate(1107.45,576.5) scale(1,1.09) rotate(-45)" class="al" text-anchor="end" dominant-baseline="central" textLength="23.9" lengthAdjust="spacingAndGlyphs">YO</text>
<text transform="translate(1154.24,576.5) scale(1,1.09) rotate(-45)" class="al" text-anchor="end" dominant-baseline="central" textLength="62.9" lengthAdjust="spacingAndGlyphs">Evuioas</text>
<text transform="translate(1201.03,576.5) scale(1,1.09) rotate(-45)" class="al" text-anchor="end" dominant-baseline="central" textLength="72.4" lengthAdjust="spacingAndGlyphs">TESMEN</text>
<text transform="translate(1247.82,576.5) scale(1,1.09) rotate(-45)" class="al" text-anchor="end" dominant-baseline="central" textLength="150.1" lengthAdjust="spacingAndGlyphs">D DNA Direct So...</text>
<text transform="translate(1294.61,576.5) scale(1,1.09) rotate(-45)" class="al" text-anchor="end" dominant-baseline="central" textLength="56.9" lengthAdjust="spacingAndGlyphs">FFtopu</text>
<text transform="translate(1341.39,576.5) scale(1,1.09) rotate(-45)" class="al" text-anchor="end" dominant-baseline="central" textLength="44" lengthAdjust="spacingAndGlyphs">TREA</text>
<text transform="translate(1388.18,576.5) scale(1,1.09) rotate(-45)" class="al" text-anchor="end" dominant-baseline="central" textLength="110.7" lengthAdjust="spacingAndGlyphs">FERTILMARQ</text>
<text transform="translate(1434.97,576.5) scale(1,1.09) rotate(-45)" class="al" text-anchor="end" dominant-baseline="central" textLength="78.7" lengthAdjust="spacingAndGlyphs">TRUEplus</text>
<text transform="translate(1481.76,576.5) scale(1,1.09) rotate(-45)" class="al" text-anchor="end" dominant-baseline="central" textLength="143.3" lengthAdjust="spacingAndGlyphs">Mold Inspection...</text>
<text transform="translate(1528.55,576.5) scale(1,1.09) rotate(-45)" class="al" text-anchor="end" dominant-baseline="central" textLength="147.3" lengthAdjust="spacingAndGlyphs">Bio Cide Labora...</text>
<text transform="translate(1575.33,576.5) scale(1,1.09) rotate(-45)" class="al" text-anchor="end" dominant-baseline="central" textLength="90.2" lengthAdjust="spacingAndGlyphs">FIRSTVIEW</text>
<text transform="translate(1622.12,576.5) scale(1,1.09) rotate(-45)" class="al" text-anchor="end" dominant-baseline="central" textLength="133.1" lengthAdjust="spacingAndGlyphs">Modern Fertilit...</text>
<text transform="translate(1668.91,576.5) scale(1,1.09) rotate(-45)" class="al" text-anchor="end" dominant-baseline="central" textLength="134.9" lengthAdjust="spacingAndGlyphs">LetsGetChecked</text>
<rect x="796.5" y="154.5" width="36.5" height="21" rx="4.5" fill="#FEAA2E"/>
<text transform="translate(841,165.5) scale(1,1.09)" class="lg" dominant-baseline="central">销量</text>
<rect x="890.8" y="154.5" width="36.5" height="21" rx="4.5" fill="#9EA7F2"/>
<text transform="translate(935,165.5) scale(1,1.09)" class="lg" dominant-baseline="central">新品销量</text>
<line x1="1020.4" y1="164.8" x2="1057" y2="164.8" stroke="#7DD06E" stroke-width="3"/>
<ellipse cx="1039" cy="164.8" rx="8" ry="8.8" fill="#fff" stroke="#7DD06E" stroke-width="2"/>
<text transform="translate(1065.5,165.5) scale(1,1.09)" class="lg" dominant-baseline="central">销量占比</text>
<rect x="163" y="722" width="1545" height="46.75" fill="#fff" stroke="#ddd" stroke-width="1.5"/>
<path d="M163,768.75 L163,730.77 L186.77,745.07 L210.54,754.17 L234.31,755.35 L258.08,756.09 L281.85,756.69 L305.62,757.04 L329.38,758.13 L353.15,758.36 L376.92,759.98 L400.69,759.98 L424.46,759.98 L448.23,758.84 L472,758.89 L495.77,758.89 L519.54,759.06 L543.31,759.14 L567.08,759.22 L590.85,759.28 L614.62,759.31 L638.38,759.38 L662.15,759.42 L685.92,759.65 L709.69,759.98 L733.46,759.46 L757.23,759.47 L781,759.51 L804.77,759.51 L828.54,759.98 L852.31,759.98 L876.08,759.6 L899.85,759.61 L923.62,759.65 L947.38,759.65 L971.15,759.65 L994.92,759.71 L1018.69,759.98 L1042.46,759.72 L1066.23,759.72 L1090,759.72 L1113.77,759.73 L1137.54,759.98 L1161.31,759.98 L1185.08,759.76 L1208.85,759.98 L1232.62,759.78 L1256.38,759.79 L1280.15,759.8 L1303.92,759.81 L1327.69,759.82 L1351.46,759.82 L1375.23,759.83 L1399,759.83 L1422.77,759.84 L1446.54,759.84 L1470.31,759.85 L1494.08,759.85 L1517.85,759.86 L1541.62,759.86 L1565.38,759.87 L1589.15,759.87 L1612.92,759.88 L1636.69,759.88 L1660.46,759.89 L1684.23,759.89 L1708,759.9 L1708,768.75 Z" fill="#2f4554" fill-opacity="0.1"/>
<path d="M163,730.77 L186.77,745.07 L210.54,754.17 L234.31,755.35 L258.08,756.09 L281.85,756.69 L305.62,757.04 L329.38,758.13 L353.15,758.36 L376.92,759.98 L400.69,759.98 L424.46,759.98 L448.23,758.84 L472,758.89 L495.77,758.89 L519.54,759.06 L543.31,759.14 L567.08,759.22 L590.85,759.28 L614.62,759.31 L638.38,759.38 L662.15,759.42 L685.92,759.65 L709.69,759.98 L733.46,759.46 L757.23,759.47 L781,759.51 L804.77,759.51 L828.54,759.98 L852.31,759.98 L876.08,759.6 L899.85,759.61 L923.62,759.65 L947.38,759.65 L971.15,759.65 L994.92,759.71 L1018.69,759.98 L1042.46,759.72 L1066.23,759.72 L1090,759.72 L1113.77,759.73 L1137.54,759.98 L1161.31,759.98 L1185.08,759.76 L1208.85,759.98 L1232.62,759.78 L1256.38,759.79 L1280.15,759.8 L1303.92,759.81 L1327.69,759.82 L1351.46,759.82 L1375.23,759.83 L1399,759.83 L1422.77,759.84 L1446.54,759.84 L1470.31,759.85 L1494.08,759.85 L1517.85,759.86 L1541.62,759.86 L1565.38,759.87 L1589.15,759.87 L1612.92,759.88 L1636.69,759.88 L1660.46,759.89 L1684.23,759.89 L1708,759.9" fill="none" stroke="#2f4554" stroke-opacity="0.18" stroke-width="1.3"/>
<rect x="163" y="722" width="1545" height="46.75" fill="rgb(167,183,204)" fill-opacity="0.4"/>
<rect x="162" y="722" width="2" height="46.75" fill="#A7B7CC"/>
<rect x="157.8" y="735.4" width="10.4" height="20.4" rx="1" fill="#A7B7CC"/>
<rect x="160.2" y="741.2" width="5.6" height="1.6" fill="#fff"/>
<rect x="160.2" y="748.6" width="5.6" height="1.6" fill="#fff"/>
<rect x="1707" y="722" width="2" height="46.75" fill="#A7B7CC"/>
<rect x="1702.8" y="735.4" width="10.4" height="20.4" rx="1" fill="#A7B7CC"/>
<rect x="1705.2" y="741.2" width="5.6" height="1.6" fill="#fff"/>
<rect x="1705.2" y="748.6" width="5.6" height="1.6" fill="#fff"/>
<text x="966.2" y="828.4" class="wm" text-anchor="middle">home test</text>
</svg>
</body></html>
